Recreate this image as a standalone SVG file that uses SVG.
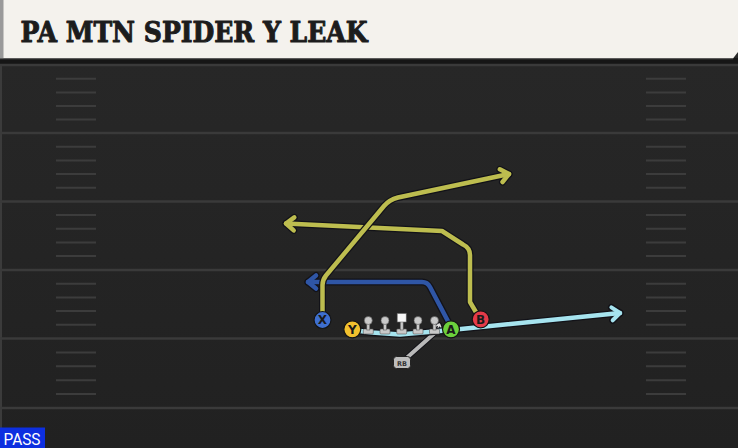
<svg xmlns="http://www.w3.org/2000/svg" width="738" height="448" viewBox="0 0 738 448">
<defs>
<linearGradient id="fieldGrad" x1="0" y1="0" x2="0" y2="1">
<stop offset="0" stop-color="#282828"/>
<stop offset="1" stop-color="#212121"/>
</linearGradient>
<marker id="ahDark" markerUnits="userSpaceOnUse" viewBox="-14 -12 18 24" refX="0" refY="0" markerWidth="18" markerHeight="24" orient="auto" overflow="visible">
<path d="M-8,-6.5 L0,0 L-8,6.5" fill="none" stroke="#121218" stroke-width="7" stroke-linecap="round" stroke-linejoin="round"/>
</marker>
<marker id="ahOlive" markerUnits="userSpaceOnUse" viewBox="-14 -12 18 24" refX="0" refY="0" markerWidth="18" markerHeight="24" orient="auto" overflow="visible">
<path d="M-8,-6.5 L0,0 L-8,6.5" fill="none" stroke="#bdbd4f" stroke-width="4.5" stroke-linecap="round" stroke-linejoin="round"/>
</marker>
<marker id="ahBlue" markerUnits="userSpaceOnUse" viewBox="-14 -12 18 24" refX="0" refY="0" markerWidth="18" markerHeight="24" orient="auto" overflow="visible">
<path d="M-8,-6.5 L0,0 L-8,6.5" fill="none" stroke="#2f56a6" stroke-width="4.5" stroke-linecap="round" stroke-linejoin="round"/>
</marker>
<marker id="ahCyan" markerUnits="userSpaceOnUse" viewBox="-14 -12 18 24" refX="0" refY="0" markerWidth="18" markerHeight="24" orient="auto" overflow="visible">
<path d="M-8,-6.5 L0,0 L-8,6.5" fill="none" stroke="#a6e4ef" stroke-width="4" stroke-linecap="round" stroke-linejoin="round"/>
</marker>
<marker id="ahGray" markerUnits="userSpaceOnUse" viewBox="-10 -10 14 20" refX="0" refY="0" markerWidth="14" markerHeight="20" orient="auto" overflow="visible">
<path d="M-4,-3.5 L0,0 L-4,3.5" fill="none" stroke="#e0e0e0" stroke-width="1.5" stroke-linecap="round" stroke-linejoin="round"/>
</marker>
</defs>
<style>
.yard{stroke:#3a3a3a;stroke-width:2.5}
.hash{stroke:#3c3c3c;stroke-width:2}
.outline{fill:none;stroke:#121218;stroke-width:7;stroke-linejoin:round;stroke-linecap:round;marker-end:url(#ahDark)}
.route{fill:none;stroke-width:4.5;stroke-linejoin:round;stroke-linecap:round}
.player{stroke:#141414;stroke-width:1.2}
.plabel{font-family:"DejaVu Sans","Liberation Sans",sans-serif;font-weight:bold;font-size:12px;fill:#1a1a1a;text-anchor:middle}
.lineman{fill:#c9c9c9;stroke:#555;stroke-width:0.6}
</style>

<!-- field -->
<rect x="0" y="0" width="738" height="448" fill="url(#fieldGrad)"/>
<rect x="0" y="58" width="738" height="6" fill="#161616"/>
<rect x="0" y="64" width="2" height="384" fill="#3b3b3b"/>
<g id="yardlines">
<line class="yard" x1="0" y1="65" x2="738" y2="65"/>
<line class="yard" x1="0" y1="133" x2="738" y2="133"/>
<line class="yard" x1="0" y1="201.5" x2="738" y2="201.5"/>
<line class="yard" x1="0" y1="270" x2="738" y2="270"/>
<line class="yard" x1="0" y1="338.5" x2="738" y2="338.5"/>
<line class="yard" x1="0" y1="408" x2="738" y2="408"/>
</g>
<g id="hashes">
<path class="hash" d="M56,78.7H96M56,92.4H96M56,106H96M56,119.5H96M56,146.7H96M56,160.4H96M56,174.1H96M56,187.8H96M56,215H96M56,228.8H96M56,242.4H96M56,256.1H96M56,283.7H96M56,297.4H96M56,311H96M56,324.7H96M56,352.4H96M56,366.3H96M56,380.2H96M56,394H96"/>
<path class="hash" d="M646,78.7H686M646,92.4H686M646,106H686M646,119.5H686M646,146.7H686M646,160.4H686M646,174.1H686M646,187.8H686M646,215H686M646,228.8H686M646,242.4H686M646,256.1H686M646,283.7H686M646,297.4H686M646,311H686M646,324.7H686M646,352.4H686M646,366.3H686M646,380.2H686M646,394H686"/>
</g>

<!-- header -->
<g id="header">
<path d="M0,0 H738 V52 L733,58.5 H0 Z" fill="#f4f2ed"/>
<rect x="0" y="0" width="3.5" height="58.5" fill="#9a9a9a"/>
<line x1="0" y1="58.8" x2="733" y2="58.8" stroke="#4a4a4a" stroke-width="1"/>
<text x="20.5" y="42" font-family="'DejaVu Serif','Liberation Serif',serif" font-weight="bold" font-size="28" fill="#1c1c1c" stroke="#1c1c1c" stroke-width="1" stroke-linejoin="round" textLength="347" lengthAdjust="spacingAndGlyphs">PA MTN SPIDER Y LEAK</text>
</g>

<!-- connectors -->
<g id="connectors">
<g id="route-rb">
<path d="M402,362 L437,331 L439,325" fill="none" stroke="#121218" stroke-width="6" stroke-linecap="round" stroke-linejoin="round"/>
<path d="M402,362 L437,331" fill="none" stroke="#b9b9b9" stroke-width="4" stroke-linecap="round"/>
<path d="M437,331 L439.5,324" fill="none" stroke="#e0e0e0" stroke-width="1.5" marker-end="url(#ahGray)"/>
</g>
<g id="route-y">
<path class="outline" d="M352,330 L372,332.5 L400,334.5 L451,330 L620,313" stroke-width="6"/>
<path class="route" d="M352,330 L372,332.5 L400,334.5 L451,330 L620,313" stroke="#a6e4ef" stroke-width="4" marker-end="url(#ahCyan)"/>
</g>
<g id="route-a">
<path class="outline" d="M450,325 L430,287 Q427.5,282 422,282 L308,282"/>
<path class="route" d="M450,325 L430,287 Q427.5,282 422,282 L308,282" stroke="#2f56a6" marker-end="url(#ahBlue)"/>
</g>
<g id="route-b">
<path class="outline" d="M480,319 L470,302 L470,255 Q470,248 463,244.5 L442,231 L286,223.5"/>
<path class="route" d="M480,319 L470,302 L470,255 Q470,248 463,244.5 L442,231 L286,223.5" stroke="#bdbd4f" marker-end="url(#ahOlive)"/>
</g>
<g id="route-x">
<path class="outline" d="M322.5,320 L322.5,285 Q322.5,280 326,275.5 L384,206 Q389,200 398,197.5 L509,174"/>
<path class="route" d="M322.5,320 L322.5,285 Q322.5,280 326,275.5 L384,206 Q389,200 398,197.5 L509,174" stroke="#bdbd4f" marker-end="url(#ahOlive)"/>
</g>
</g>

<!-- offensive line -->
<g id="lt">
<rect class="lineman" x="363.3" y="329" width="10" height="5" rx="1"/>
<rect class="lineman" x="366.8" y="322" width="3" height="8"/>
<circle class="lineman" cx="368.3" cy="320.5" r="4"/>
</g>
<g id="lg">
<rect class="lineman" x="380" y="329" width="10" height="5" rx="1"/>
<rect class="lineman" x="383.5" y="322" width="3" height="8"/>
<circle class="lineman" cx="385" cy="320.5" r="4"/>
</g>
<g id="c">
<rect class="lineman" x="396.7" y="329" width="10" height="5" rx="1"/>
<rect class="lineman" x="400.2" y="321" width="3" height="9"/>
<rect x="397.2" y="313.5" width="9" height="8.5" fill="#f8f8f8" stroke="#666" stroke-width="0.6"/>
</g>
<g id="rg">
<rect class="lineman" x="413" y="329" width="10" height="5" rx="1"/>
<rect class="lineman" x="416.5" y="322" width="3" height="8"/>
<circle class="lineman" cx="418" cy="320.5" r="4"/>
</g>
<g id="rt">
<rect class="lineman" x="429.5" y="329" width="10" height="5" rx="1"/>
<rect class="lineman" x="433" y="322" width="3" height="8"/>
<circle class="lineman" cx="434.5" cy="320.5" r="4"/>
</g>

<!-- skill players -->
<g id="rb">
<rect x="393.5" y="356.5" width="17" height="12" rx="3" fill="#bdbdbd" stroke="#222" stroke-width="1"/>
<text x="402" y="365.5" font-family="'DejaVu Sans','Liberation Sans',sans-serif" font-weight="bold" font-size="6.5" fill="#333" text-anchor="middle">RB</text>
</g>
<g id="x">
<circle class="player" cx="322.5" cy="320" r="8.5" fill="#3e6fd0"/>
<text class="plabel" x="322.5" y="324.3">X</text>
</g>
<g id="y">
<circle class="player" cx="352.3" cy="329.3" r="8.5" fill="#f2c12e"/>
<text class="plabel" x="352.3" y="333.6">Y</text>
</g>
<g id="a">
<circle class="player" cx="451" cy="329.3" r="8.5" fill="#6cd13c"/>
<text class="plabel" x="451" y="333.6">A</text>
</g>
<g id="b">
<circle class="player" cx="480.7" cy="319.3" r="8.5" fill="#e53a48"/>
<text class="plabel" x="480.7" y="323.6">B</text>
</g>

<!-- badge -->
<g id="pass-badge">
<rect x="0" y="427.5" width="45" height="20.5" fill="#0d2fe0"/>
<text x="3.5" y="445" font-family="Roboto,'Liberation Sans',sans-serif" font-size="16" fill="#ffffff" textLength="37" lengthAdjust="spacingAndGlyphs">PASS</text>
</g>
</svg>
